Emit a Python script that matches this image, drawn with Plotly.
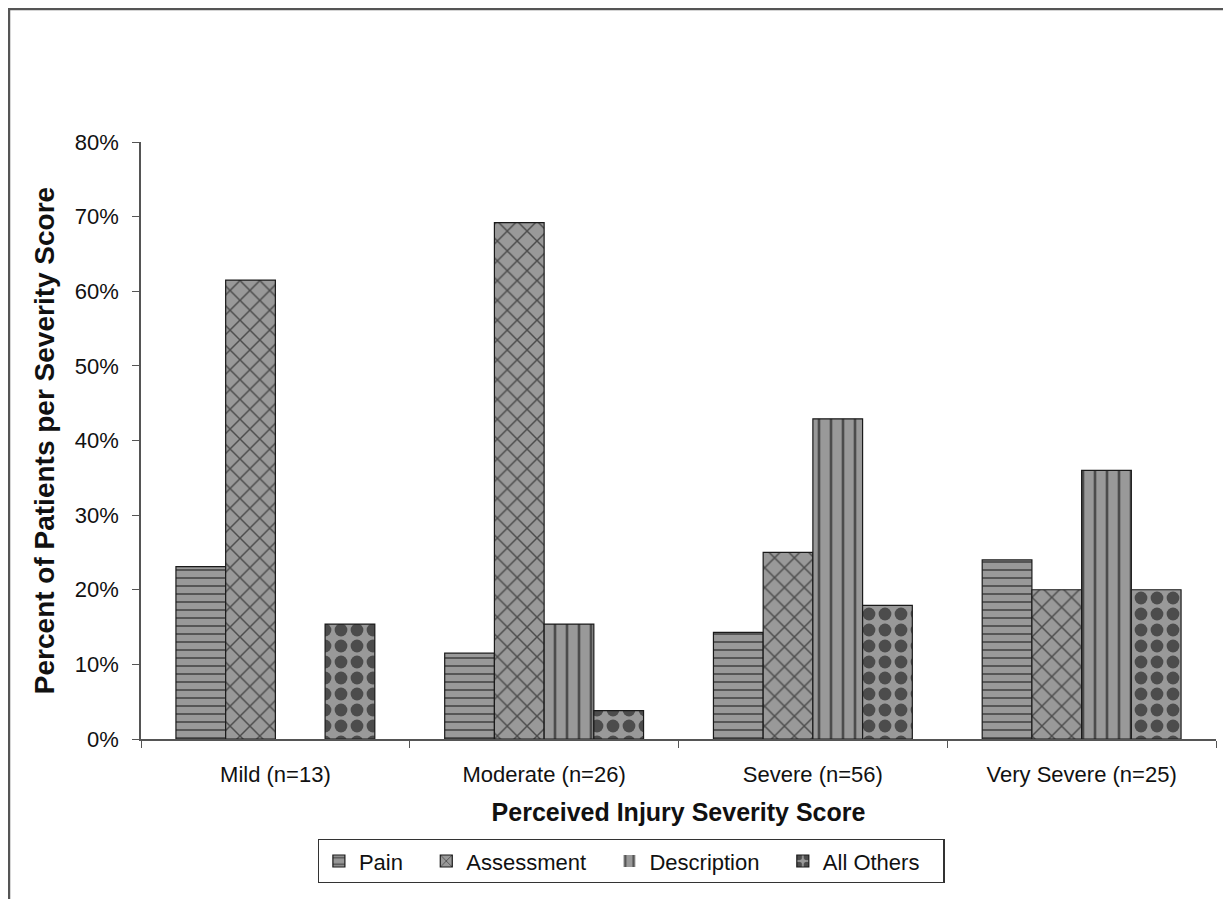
import plotly.graph_objects as go

categories = ["Mild (n=13)", "Moderate (n=26)", "Severe (n=56)", "Very Severe (n=25)"]
pain = [23.1, 11.5, 14.3, 24.0]
assessment = [61.5, 69.2, 25.0, 20.0]
description = [0.0, 15.4, 42.9, 36.0]
all_others = [15.4, 3.8, 17.9, 20.0]
series_names = ["Pain", "Assessment", "Description", "All Others"]

patterns = [
    dict(shape="-", size=8, solidity=0.22),
    dict(shape="x", size=14, solidity=0.2),
    dict(shape="|", size=12, solidity=0.22),
    dict(shape=".", size=16, solidity=0.5),
]

NBSP = "\u00a0"
fig = go.Figure()
for name, vals, pat in zip(series_names, [pain, assessment, description, all_others], patterns):
    fig.add_trace(go.Bar(
        name=name + NBSP * 3, x=categories, y=[v / 100 for v in vals],
        marker=dict(color="#999999",
                    line=dict(color="#1a1a1a", width=[1.2 if v > 0 else 0 for v in vals]),
                    pattern=dict(fgcolor="black", fillmode="overlay", **pat)),
    ))

font = "Liberation Sans, Arial, sans-serif"
# page body has an 8px margin, so figure coordinates are offset by 8px
fig.update_layout(
    width=1223, height=891,
    margin=dict(l=133, r=15, t=134, b=160),
    paper_bgcolor="white", plot_bgcolor="white",
    barmode="group", bargap=0.26, bargroupgap=0,
    font=dict(family=font, size=22, color="#111111"),
    showlegend=True,
    legend=dict(orientation="h", x=0.456, xanchor="center", y=-0.1675, yanchor="top",
                bordercolor="#333333", borderwidth=1.2, font=dict(size=22),
                tracegroupgap=0),
    xaxis=dict(showline=True, linecolor="#555555", linewidth=1.5,
               ticks="outside", tickson="boundaries", ticklen=7, tickcolor="#555555",
               ticklabelstandoff=15, tickfont=dict(size=22),
               title=dict(text="<b>Perceived Injury Severity Score</b>", font=dict(size=25), standoff=17),
               showgrid=False),
    yaxis=dict(range=[0, 0.8], dtick=0.1, tickformat=".0%",
               showline=True, linecolor="#555555", linewidth=1.5,
               ticks="outside", ticklen=7, tickcolor="#555555", showgrid=False, zeroline=False,
               ticklabelstandoff=9, tickfont=dict(size=22),
               title=dict(text="<b>Percent of Patients per Severity Score</b>", font=dict(size=28), standoff=12)),
    shapes=[dict(type="rect", xref="paper", yref="paper",
                 x0=-0.1228, x1=1.0102, y0=-0.3, y1=1.2228,
                 line=dict(color="#555555", width=2.5), fillcolor="rgba(0,0,0,0)", layer="below")],
)
fig.write_html("out.html")
